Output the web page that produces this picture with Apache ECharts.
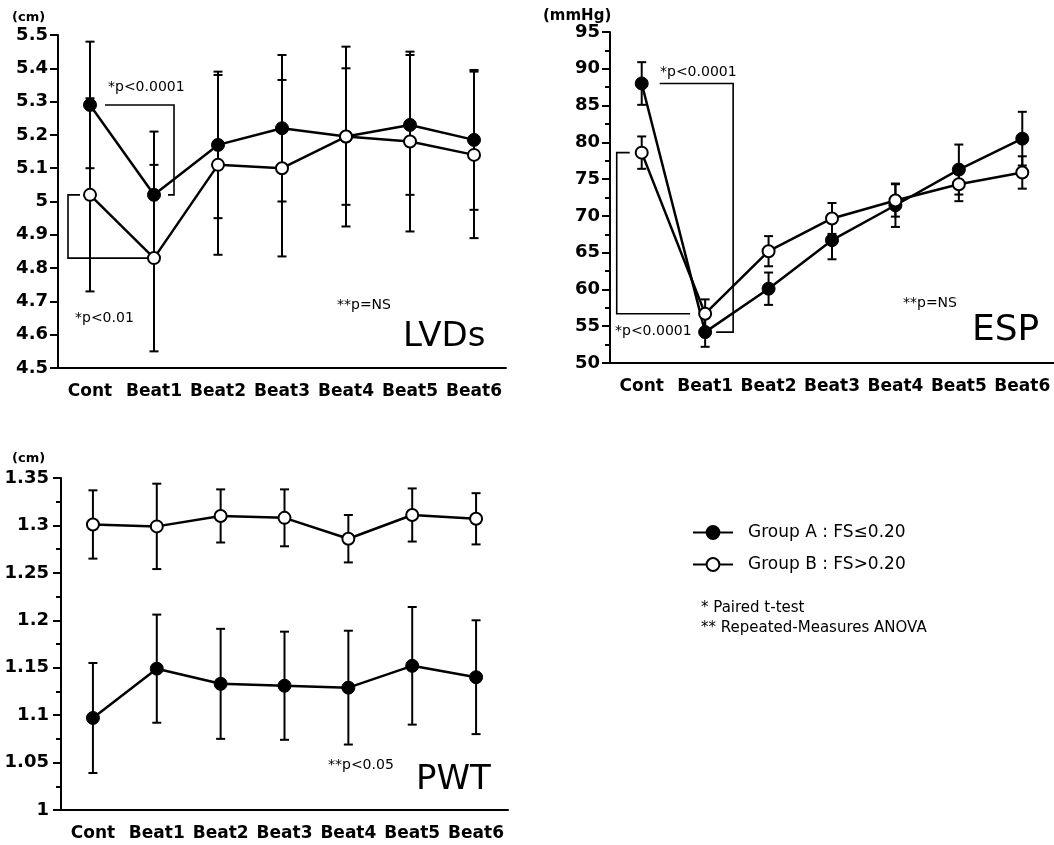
<!DOCTYPE html>
<html>
<head>
<meta charset="utf-8">
<script src="https://cdn.jsdelivr.net/npm/echarts@6/dist/echarts.min.js"></script>
<style>html,body{margin:0;padding:0;background:#fff;}#c{width:1054px;height:845px;}</style>
</head>
<body>
<div id="c"></div>
<script>
// ---- data ----
const categories = ['Cont', 'Beat1', 'Beat2', 'Beat3', 'Beat4', 'Beat5', 'Beat6'];
const nameA = 'Group A : FS\u22640.20';
const nameB = 'Group B : FS>0.20';

// LVDs (cm)
const lvdsA   = [5.29, 5.02, 5.17, 5.22, 5.195, 5.23, 5.185];
const lvdsAsd = [0.19, 0.19, 0.22, 0.22, 0.27, 0.21, 0.21];
const lvdsB   = [5.02, 4.83, 5.11, 5.10, 5.195, 5.18, 5.14];
const lvdsBsd = [0.29, 0.28, 0.27, 0.265, 0.205, 0.27, 0.25];

// ESP (mmHg)
const espA   = [88.0, 54.2, 60.1, 66.7, 71.45, 76.3, 80.5];
const espAsd = [2.9, 2.0, 2.2, 2.6, 2.95, 3.4, 3.65];
const espB   = [78.6, 56.7, 65.2, 69.65, 72.1, 74.3, 75.9];
const espBsd = [2.2, 1.95, 2.05, 2.1, 2.2, 2.3, 2.2];

// PWT (cm)
const pwtA   = [1.097, 1.149, 1.133, 1.131, 1.129, 1.152, 1.140];
const pwtAsd = [0.058, 0.057, 0.058, 0.057, 0.060, 0.062, 0.060];
const pwtB   = [1.301, 1.299, 1.310, 1.308, 1.286, 1.311, 1.307];
const pwtBsd = [0.036, 0.045, 0.028, 0.030, 0.025, 0.028, 0.027];

// significance brackets: [categoryIndex, pixelOffset, value]
const lvdsBrackets = [
  [[0, 15, 5.29], [1, 20, 5.29], [1, 20, 5.02], [1, 14, 5.02]],
  [[0, -10, 5.02], [0, -22, 5.02], [0, -22, 4.83], [1, -4, 4.83]]
];
const espBrackets = [
  [[0, 18, 88.0], [1, 28, 88.0], [1, 28, 54.2], [1, 11, 54.2]],
  [[0, -12, 78.6], [0, -25, 78.6], [0, -25, 56.7], [1, -15, 56.7]]
];

// ---- chart ----
const FONT = 'DejaVu Sans';
const chart = echarts.init(document.getElementById('c'));

function errData(mean, sd) {
  return mean.map((m, i) => [i, m - sd[i], m + sd[i]]);
}
function errRender(params, api) {
  const x = api.value(0);
  const lo = api.coord([x, api.value(1)]);
  const hi = api.coord([x, api.value(2)]);
  const w = 4.5;
  const st = { stroke: '#000', lineWidth: 2 };
  return {
    type: 'group',
    children: [
      { type: 'line', shape: { x1: lo[0], y1: lo[1], x2: hi[0], y2: hi[1] }, style: st },
      { type: 'line', shape: { x1: hi[0] - w, y1: hi[1], x2: hi[0] + w, y2: hi[1] }, style: st },
      { type: 'line', shape: { x1: lo[0] - w, y1: lo[1], x2: lo[0] + w, y2: lo[1] }, style: st }
    ]
  };
}
function bracketRender(list) {
  return function (params, api) {
    const pts = list[params.dataIndex].map(p => {
      const c = api.coord([p[0], p[2]]);
      return [c[0] + p[1], c[1]];
    });
    return { type: 'polyline', shape: { points: pts }, style: { stroke: '#000', lineWidth: 1.6, fill: null } };
  };
}

const grids = [
  { left: 58, top: 35, width: 448, height: 333 },
  { left: 610, top: 32, width: 447, height: 331 },
  { left: 61, top: 478, width: 447, height: 332 }
];
const yRanges = [
  { min: 4.5, max: 5.5, interval: 0.1, minor: false },
  { min: 50, max: 95, interval: 5, minor: true },
  { min: 1, max: 1.35, interval: 0.05, minor: true }
];

const xAxes = grids.map((g, i) => ({
  type: 'category', gridIndex: i, data: categories, boundaryGap: true,
  axisLine: { lineStyle: { color: '#000', width: 2 } },
  axisTick: { alignWithLabel: true, length: 5, lineStyle: { color: '#000', width: 2 } },
  axisLabel: { color: '#000', fontFamily: FONT, fontSize: 17, fontWeight: 'bold', margin: 15, interval: 0 },
  splitLine: { show: false }
}));
const yAxes = yRanges.map((r, i) => ({
  type: 'value', gridIndex: i, min: r.min, max: r.max, interval: r.interval,
  axisLine: { show: true, lineStyle: { color: '#000', width: 2 } },
  axisTick: { show: true, length: 8, lineStyle: { color: '#000', width: 2 } },
  minorTick: { show: r.minor, splitNumber: 2, length: 5, lineStyle: { color: '#000', width: 2 } },
  axisLabel: { color: '#000', fontFamily: FONT, fontSize: 18, fontWeight: 'bold', margin: i === 2 ? 12 : 10 },
  splitLine: { show: false }
}));

function groupSeries(gi, a, asd, b, bsd) {
  return [
    { type: 'custom', xAxisIndex: gi, yAxisIndex: gi, z: 1, renderItem: errRender, data: errData(a, asd), silent: true },
    { type: 'custom', xAxisIndex: gi, yAxisIndex: gi, z: 1, renderItem: errRender, data: errData(b, bsd), silent: true },
    { type: 'line', name: nameA, xAxisIndex: gi, yAxisIndex: gi, z: 3, data: a,
      symbol: 'circle', symbolSize: 13,
      lineStyle: { color: '#000', width: 2.5 },
      itemStyle: { color: '#000', borderColor: '#000', borderWidth: 1 } },
    { type: 'line', name: nameB, xAxisIndex: gi, yAxisIndex: gi, z: 3, data: b,
      symbol: 'circle', symbolSize: 12,
      lineStyle: { color: '#000', width: 2.5 },
      itemStyle: { color: '#fff', borderColor: '#000', borderWidth: 2 } }
  ];
}

const series = [].concat(
  groupSeries(0, lvdsA, lvdsAsd, lvdsB, lvdsBsd),
  groupSeries(1, espA, espAsd, espB, espBsd),
  groupSeries(2, pwtA, pwtAsd, pwtB, pwtBsd),
  [
    { type: 'custom', xAxisIndex: 0, yAxisIndex: 0, z: 2, renderItem: bracketRender(lvdsBrackets),
      data: lvdsBrackets.map((b, i) => [i, b[0][2]]), silent: true },
    { type: 'custom', xAxisIndex: 1, yAxisIndex: 1, z: 2, renderItem: bracketRender(espBrackets),
      data: espBrackets.map((b, i) => [i, b[0][2]]), silent: true }
  ]
);

function txt(text, x, y, size, weight) {
  return { type: 'text', x: x, y: y, silent: true,
    style: { text: text, fill: '#000', font: (weight || 'normal') + ' ' + size + 'px "' + FONT + '"',
      textVerticalAlign: 'middle', verticalAlign: 'middle' } };
}

chart.setOption({
  animation: false,
  backgroundColor: '#fff',
  grid: grids,
  xAxis: xAxes,
  yAxis: yAxes,
  series: series,
  legend: {
    data: [nameA, nameB], orient: 'vertical', left: 692, top: 524, padding: 0,
    itemWidth: 40, itemHeight: 16, itemGap: 15, selectedMode: false,
    textStyle: { color: '#000', fontFamily: FONT, fontSize: 17, padding: [0, 0, 0, 10] }
  },
  graphic: [
    txt('(cm)', 12, 18, 13, 'bold'),
    txt('(mmHg)', 543, 16, 15, 'bold'),
    txt('(cm)', 12, 459, 13, 'bold'),
    txt('*p<0.0001', 108, 87, 14),
    txt('*p<0.01', 75, 318, 14),
    txt('**p=NS', 337, 305, 14),
    txt('LVDs', 403, 337, 34),
    txt('*p<0.0001', 660, 72, 14),
    txt('*p<0.0001', 615, 331, 14),
    txt('**p=NS', 903, 303, 14),
    txt('ESP', 972, 331, 36),
    txt('**p<0.05', 328, 765, 14),
    txt('PWT', 416, 780, 34),
    txt('* Paired t-test', 701, 608, 15),
    txt('** Repeated-Measures ANOVA', 701, 628, 15)
  ]
});
</script>
</body>
</html>
